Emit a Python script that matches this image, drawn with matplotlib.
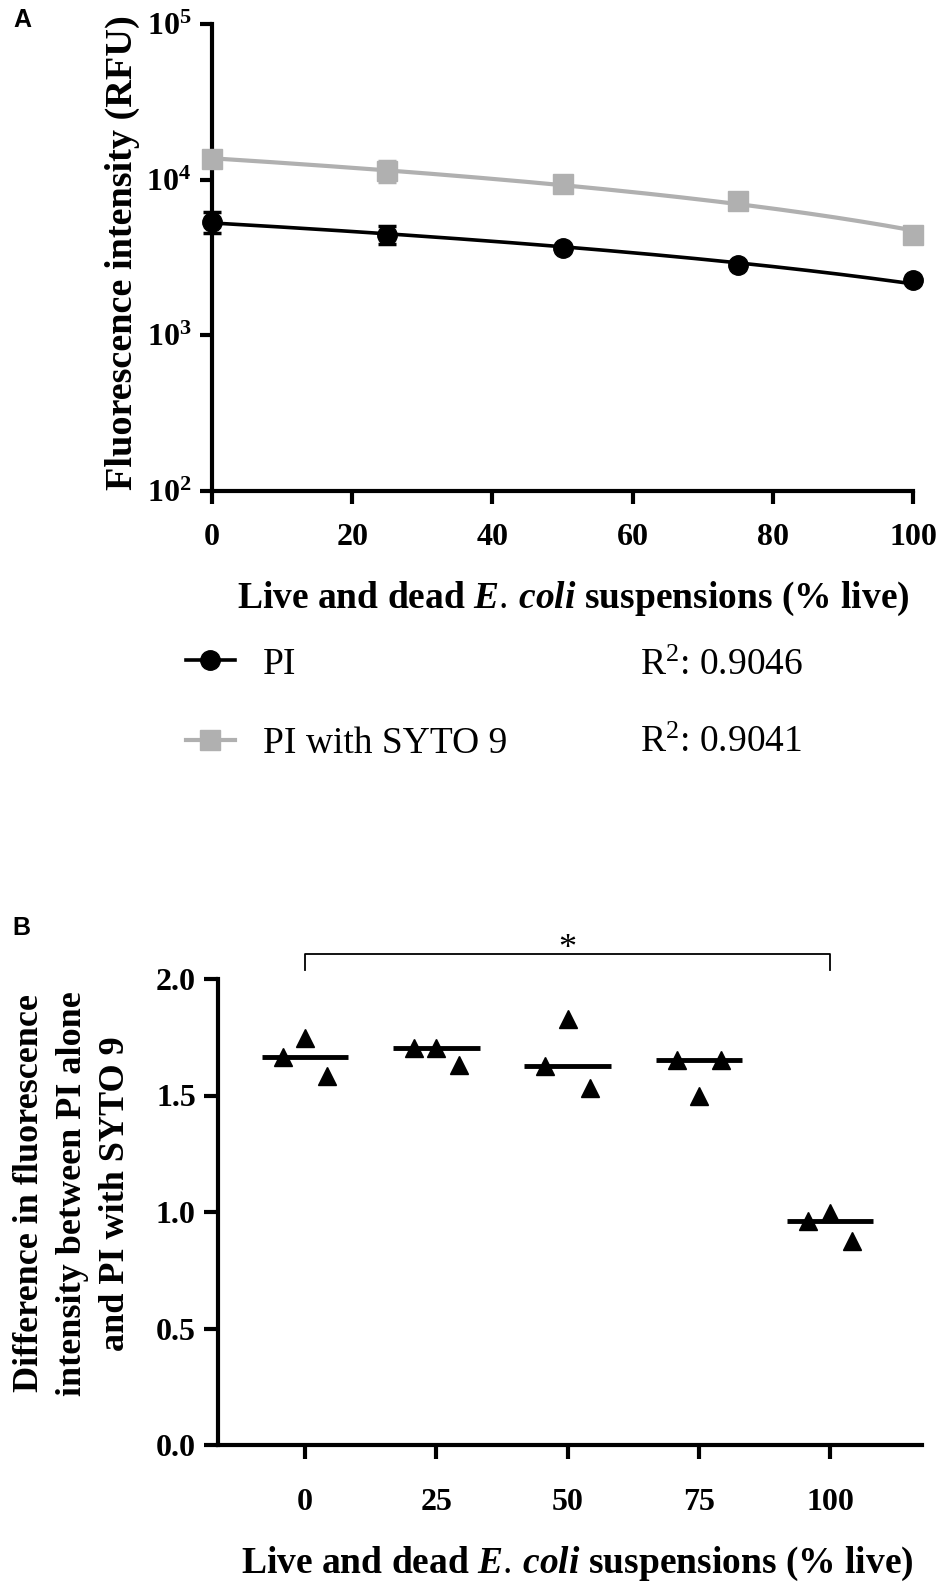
import numpy as np
import matplotlib
matplotlib.use('Agg')
import matplotlib.pyplot as plt

# ---------------- data ----------------
pct_live = [0, 25, 50, 75, 100]
pi_mean = [5370, 4440, 3630, 2830, 2260]
pi_sd = [800, 600, 150, 100, 80]
syto_mean = [13600, 11400, 9400, 7300, 4400]
syto_sd = [600, 1700, 500, 800, 200]
r2_pi = '0.9046'
r2_syto = '0.9041'

groups = ['0', '25', '50', '75', '100']
diff_left = [1.667, 1.705, 1.627, 1.652, 0.962]
diff_mid = [1.745, 1.705, 1.830, 1.497, 0.997]
diff_right = [1.585, 1.632, 1.533, 1.652, 0.877]

# ---------------- style ----------------
plt.rcParams['font.family'] = ['Liberation Serif', 'DejaVu Serif']
plt.rcParams['mathtext.fontset'] = 'custom'
plt.rcParams['mathtext.rm'] = 'Liberation Serif'
plt.rcParams['mathtext.bf'] = 'Liberation Serif:bold'
plt.rcParams['mathtext.it'] = 'Liberation Serif:italic:bold'
plt.rcParams['axes.linewidth'] = 3

gray = '#b0b0b0'
W, H = 950, 1584
fig = plt.figure(figsize=(W / 100, H / 100), dpi=100)

# the '.' in mathtext already adds a small space after it
xlab = r'Live and dead $\mathit{E.\,coli}$ suspensions (% live)'

# ---------------- panel A ----------------
axA = fig.add_axes([212 / W, 1 - 491 / H, 701 / W, 467 / H])
xfit = np.linspace(0, 100, 200)
c_pi = np.polyfit(pct_live, pi_mean, 1)
c_sy = np.polyfit(pct_live, syto_mean, 1)
fit_sy, = axA.plot(xfit, np.polyval(c_sy, xfit), color=gray, lw=3, clip_on=False)
fit_pi, = axA.plot(xfit, np.polyval(c_pi, xfit), color='black', lw=2.6, clip_on=False)
eb_sy = axA.errorbar(pct_live, syto_mean, yerr=syto_sd, fmt='s', color=gray, ms=14,
                     capsize=6.5, elinewidth=2.5, capthick=2.5, clip_on=False, zorder=4)
eb_pi = axA.errorbar(pct_live, pi_mean, yerr=pi_sd, fmt='o', color='black', ms=14,
                     capsize=6.5, elinewidth=2.5, capthick=2.5, clip_on=False, zorder=5)
for b in eb_sy.lines[1] + eb_pi.lines[1] + eb_sy.lines[2] + eb_pi.lines[2]:
    b.set_clip_on(False)

axA.set_yscale('log')
axA.set_ylim(1e2, 1e5)
axA.set_xlim(0, 100)
axA.set_yticks([1e2, 1e3, 1e4, 1e5])
axA.set_yticklabels([r'$\mathbf{10^{2}}$', r'$\mathbf{10^{3}}$', r'$\mathbf{10^{4}}$', r'$\mathbf{10^{5}}$'])
axA.yaxis.set_minor_locator(matplotlib.ticker.NullLocator())
axA.set_xticks([0, 20, 40, 60, 80, 100])
axA.tick_params(axis='both', length=9, width=3, labelsize=23, pad=6)
axA.tick_params(axis='x', pad=14)
for lab in axA.get_xticklabels():
    lab.set_fontweight('bold')
for s in ['top', 'right']:
    axA.spines[s].set_visible(False)

axA.set_xlabel(xlab, fontsize=27, fontweight='bold')
axA.xaxis.set_label_coords(0.515, -0.19)
axA.set_ylabel('Fluorescence intensity (RFU)', fontsize=27.5, fontweight='bold')
axA.yaxis.set_label_coords(-0.103, 0.51)

leg = fig.legend(handles=[(fit_pi, eb_pi[0]), (fit_sy, eb_sy[0])],
                 labels=['PI', 'PI with SYTO 9'], loc='center left',
                 bbox_to_anchor=(186 / W, 1 - 704 / H), frameon=False, fontsize=27,
                 handlelength=1.3, handletextpad=0.75, labelspacing=1.2,
                 borderpad=0, borderaxespad=0)
fig.text(640 / W, 1 - 666 / H, r'R$^{2}$: ' + r2_pi, fontsize=27, va='center')
fig.text(640 / W, 1 - 743 / H, r'R$^{2}$: ' + r2_syto, fontsize=27, va='center')

# ---------------- panel B ----------------
axB = fig.add_axes([218 / W, 1 - 1445 / H, 704 / W, 466 / H])
xpos = np.arange(len(groups))
off = 0.17
axB.plot(xpos - off, diff_left, '^', color='black', ms=13, clip_on=False)
axB.plot(xpos, diff_mid, '^', color='black', ms=13, clip_on=False)
axB.plot(xpos + off, diff_right, '^', color='black', ms=13, clip_on=False)
med = np.median(np.array([diff_left, diff_mid, diff_right]), axis=0)
for xp, m in zip(xpos, med):
    axB.plot([xp - 0.33, xp + 0.33], [m, m], color='black', lw=3.5, solid_capstyle='butt')

axB.set_xlim(-0.664, 4.70)
axB.set_ylim(0, 2.0)
axB.set_xticks(xpos)
axB.set_xticklabels(groups)
axB.set_yticks([0.0, 0.5, 1.0, 1.5, 2.0])
axB.set_yticklabels(['0.0', '0.5', '1.0', '1.5', '2.0'])
axB.tick_params(axis='both', length=10, width=3, labelsize=23, pad=6)
axB.tick_params(axis='x', pad=21)
for lab in axB.get_xticklabels() + axB.get_yticklabels():
    lab.set_fontweight('bold')
for s in ['top', 'right']:
    axB.spines[s].set_visible(False)

axB.set_xlabel(xlab, fontsize=27, fontweight='bold')
axB.xaxis.set_label_coords(0.51, -0.215)
axB.set_ylabel('Difference in fluorescence\nintensity between PI alone\nand PI with SYTO 9',
               fontsize=26, fontweight='bold', linespacing=1.4)
axB.yaxis.set_label_coords(-0.122, 0.54)

# significance bracket between 0 % and 100 %
axB.plot([0, 0, 4, 4], [2.04, 2.107, 2.107, 2.04], color='black', lw=1.3, clip_on=False)
axB.text(2, 2.126, '*', ha='center', va='center', fontsize=26)

# panel letters
fig.text(13 / W, 1 - 20 / H, 'A', fontsize=18, fontweight='bold', family='Liberation Sans',
         va='center')
fig.text(12 / W, 1 - 928 / H, 'B', fontsize=18, fontweight='bold', family='Liberation Sans',
         va='center')

fig.savefig('out.png', dpi=100)
